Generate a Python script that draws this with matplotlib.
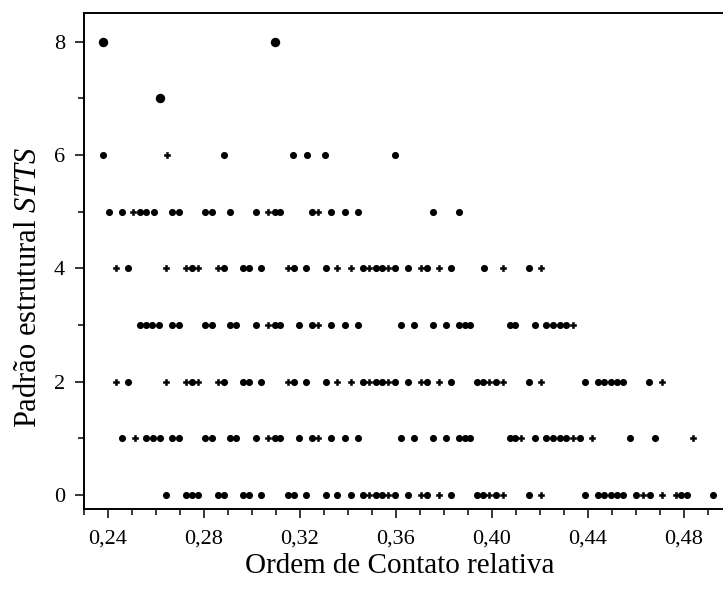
import matplotlib
matplotlib.use("Agg")
import matplotlib.pyplot as plt
from matplotlib.ticker import MultipleLocator, FuncFormatter

# ---- data: x (relative contact order) per structural pattern value, weight 1=small, 2=normal, 3=large
x_y8 = [0.2379, 0.3095]
w_y8 = [3, 3]
x_y7 = [0.2617]
w_y7 = [3]
x_y6 = [0.2379, 0.2645, 0.2882, 0.3172, 0.3228, 0.3306, 0.3596]
w_y6 = [2, 1, 2, 2, 2, 2, 2]
x_y5 = [0.2404, 0.2458, 0.2504, 0.2532, 0.2560, 0.2590, 0.2668, 0.2696, 0.2804, 0.2832,
        0.2907, 0.3018, 0.3067, 0.3095, 0.3118, 0.3250, 0.3277, 0.3331, 0.3386, 0.3442,
        0.3754, 0.3863]
w_y5 = [2, 2, 1, 2, 2, 2, 2, 2, 2, 2,
        2, 2, 1, 2, 2, 2, 1, 2, 2, 2,
        2, 2]
x_y4 = [0.2432, 0.2483, 0.2643, 0.2727, 0.2752, 0.2775, 0.2858, 0.2883, 0.2963, 0.2988,
        0.3039, 0.3150, 0.3174, 0.3227, 0.3307, 0.3356, 0.3414, 0.3463, 0.3488, 0.3515,
        0.3540, 0.3567, 0.3595, 0.3650, 0.3703, 0.3729, 0.3779, 0.3831, 0.3965, 0.4046,
        0.4153, 0.4206]
w_y4 = [1, 2, 1, 1, 2, 1, 1, 2, 2, 2,
        2, 1, 2, 2, 2, 1, 1, 2, 1, 2,
        2, 1, 2, 2, 1, 2, 1, 2, 2, 1,
        2, 1]
x_y3 = [0.2535, 0.2560, 0.2585, 0.2613, 0.2668, 0.2696, 0.2804, 0.2832, 0.2907, 0.2935,
        0.3018, 0.3067, 0.3095, 0.3118, 0.3196, 0.3250, 0.3277, 0.3331, 0.3386, 0.3442,
        0.3622, 0.3674, 0.3754, 0.3810, 0.3863, 0.3886, 0.3910, 0.4074, 0.4097, 0.4178,
        0.4227, 0.4254, 0.4282, 0.4307, 0.4338]
w_y3 = [2, 2, 2, 2, 2, 2, 2, 2, 2, 2,
        2, 1, 2, 2, 2, 2, 1, 2, 2, 2,
        2, 2, 2, 2, 2, 2, 2, 2, 2, 2,
        2, 2, 2, 2, 1]
x_y2 = [0.2432, 0.2483, 0.2643, 0.2727, 0.2752, 0.2775, 0.2858, 0.2883, 0.2963, 0.2988,
        0.3039, 0.3150, 0.3174, 0.3227, 0.3307, 0.3356, 0.3414, 0.3463, 0.3488, 0.3515,
        0.3540, 0.3567, 0.3595, 0.3650, 0.3703, 0.3729, 0.3779, 0.3831, 0.3938, 0.3963,
        0.3988, 0.4018, 0.4046, 0.4153, 0.4206, 0.4386, 0.4442, 0.4465, 0.4495, 0.4521,
        0.4546, 0.4654, 0.4708]
w_y2 = [1, 2, 1, 1, 2, 1, 1, 2, 2, 2,
        2, 1, 2, 2, 2, 1, 1, 2, 1, 2,
        2, 1, 2, 2, 1, 2, 1, 2, 2, 2,
        1, 2, 1, 2, 1, 2, 2, 2, 2, 2,
        2, 2, 1]
x_y1 = [0.2458, 0.2511, 0.2560, 0.2588, 0.2615, 0.2668, 0.2696, 0.2804, 0.2832, 0.2907,
        0.2935, 0.3018, 0.3067, 0.3095, 0.3118, 0.3196, 0.3250, 0.3277, 0.3331, 0.3386,
        0.3442, 0.3622, 0.3674, 0.3754, 0.3810, 0.3863, 0.3886, 0.3910, 0.4074, 0.4097,
        0.4122, 0.4178, 0.4227, 0.4254, 0.4282, 0.4307, 0.4338, 0.4365, 0.4417, 0.4577,
        0.4678, 0.4838]
w_y1 = [2, 1, 2, 2, 2, 2, 2, 2, 2, 2,
        2, 2, 1, 2, 2, 2, 2, 1, 2, 2,
        2, 2, 2, 2, 2, 2, 2, 2, 2, 2,
        1, 2, 2, 2, 2, 2, 1, 2, 1, 2,
        2, 1]
x_y0 = [0.2643, 0.2727, 0.2752, 0.2775, 0.2858, 0.2883, 0.2963, 0.2988, 0.3039, 0.3150,
        0.3174, 0.3227, 0.3307, 0.3356, 0.3414, 0.3463, 0.3488, 0.3515, 0.3540, 0.3567,
        0.3595, 0.3650, 0.3703, 0.3729, 0.3779, 0.3831, 0.3938, 0.3963, 0.3988, 0.4018,
        0.4046, 0.4153, 0.4206, 0.4386, 0.4442, 0.4465, 0.4495, 0.4521, 0.4546, 0.4599,
        0.4629, 0.4657, 0.4708, 0.4765, 0.4789, 0.4813, 0.4921]
w_y0 = [2, 2, 2, 2, 2, 2, 2, 2, 2, 2,
        2, 2, 2, 2, 2, 2, 1, 2, 2, 1,
        2, 2, 1, 2, 1, 2, 2, 2, 1, 2,
        1, 2, 1, 2, 2, 2, 2, 2, 2, 2,
        1, 2, 1, 1, 2, 2, 2]

rows_x = [x_y0, x_y1, x_y2, x_y3, x_y4, x_y5, x_y6, x_y7, x_y8]
rows_w = [w_y0, w_y1, w_y2, w_y3, w_y4, w_y5, w_y6, w_y7, w_y8]
y_values = [0, 1, 2, 3, 4, 5, 6, 7, 8]

xlabel = "Ordem de Contato relativa"
ylabel = r"Padrão estrutural $STTS$"

plt.rcParams["font.family"] = ["Liberation Serif", "DejaVu Serif"]
plt.rcParams["mathtext.fontset"] = "custom"
plt.rcParams["mathtext.rm"] = "Liberation Serif"
plt.rcParams["mathtext.it"] = "Liberation Serif:italic"

W, H = 723, 594
fig = plt.figure(figsize=(W / 100, H / 100), dpi=100)
left_px, bottom_px, top_px = 84, 509.3, 13.3
x_min, x_max = 0.23, 0.50
px_per_unit = 2400.0
right_px = left_px + (x_max - x_min) * px_per_unit
ax = fig.add_axes([left_px / W, (H - bottom_px) / H,
                   (right_px - left_px) / W, (bottom_px - top_px) / H])

style_map = {1: ("P", 22, 0.4), 2: ("o", 26, 0.0), 3: ("o", 46, 0.0)}
for yv, xs, ws in zip(y_values, rows_x, rows_w):
    for wt in (1, 2, 3):
        sel = [x for x, w in zip(xs, ws) if w == wt]
        if sel:
            mk, sz, lw = style_map[wt]
            ax.scatter(sel, [yv] * len(sel), s=sz, c="black", edgecolors="black",
                       marker=mk, linewidths=lw, zorder=3)

ax.set_xlim(x_min, x_max)
ax.set_ylim(-0.25, 8.5)
ax.xaxis.set_major_locator(MultipleLocator(0.04))
ax.xaxis.set_minor_locator(MultipleLocator(0.01))
ax.yaxis.set_major_locator(MultipleLocator(2))
ax.yaxis.set_minor_locator(MultipleLocator(1))
ax.xaxis.set_major_formatter(FuncFormatter(lambda v, p: f"{v:.2f}".replace(".", ",")))
ax.yaxis.set_major_formatter(FuncFormatter(lambda v, p: f"{v:.0f}"))

for sp in ax.spines.values():
    sp.set_linewidth(1.4)
ax.tick_params(which="major", direction="out", length=6.5, width=1.1, labelsize=16)
ax.tick_params(which="minor", direction="out", length=4, width=1.1)
ax.tick_params(axis="x", which="major", pad=8)
ax.tick_params(axis="y", which="major", pad=7)

fig.text(400 / W, 1 - 566 / H, xlabel, ha="center", va="center", fontsize=21)
fig.text(29 / W, 1 - 287 / H, ylabel, ha="center", va="center",
         rotation=90, fontsize=22)

fig.savefig("out.png", dpi=100)
